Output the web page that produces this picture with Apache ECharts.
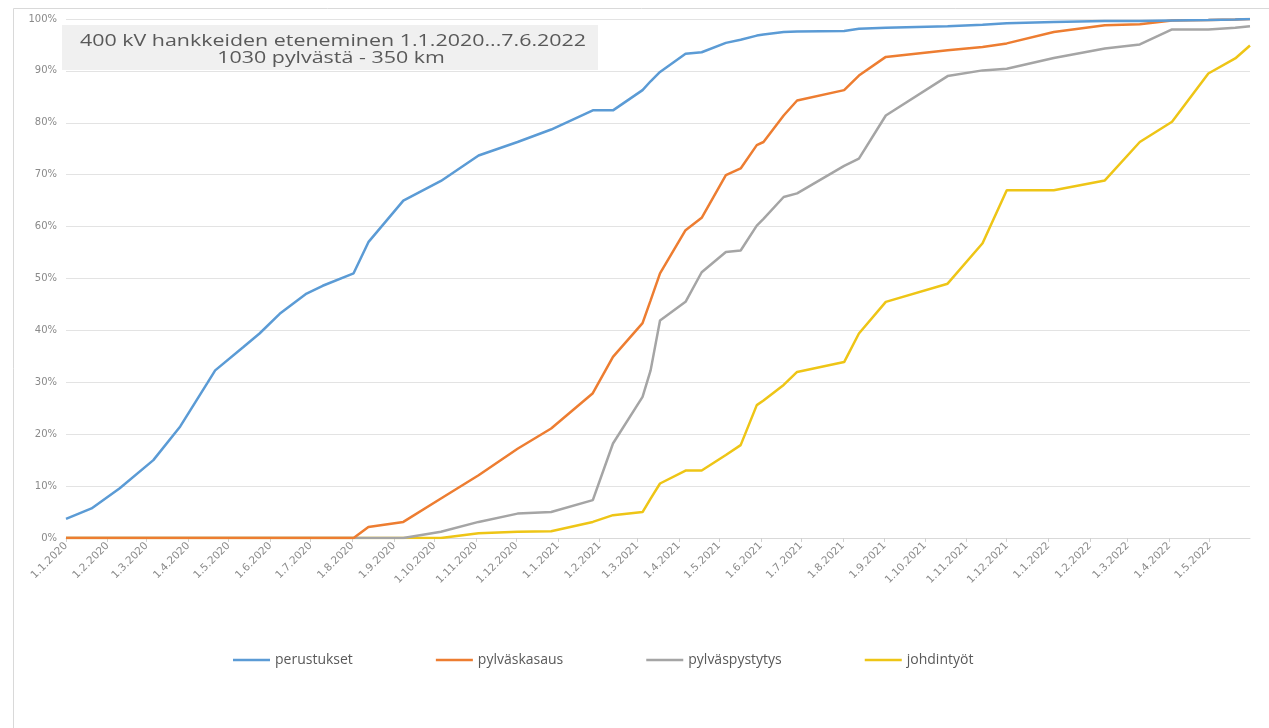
<!DOCTYPE html>
<html><head><meta charset="utf-8">
<script src="https://cdn.jsdelivr.net/npm/echarts@6/dist/echarts.min.js"></script>
<style>html,body{margin:0;padding:0;background:#fff}#c{width:1269px;height:728px}</style>
</head><body><div id="c"></div>
<script>
const titleLines = ['400 kV hankkeiden eteneminen 1.1.2020...7.6.2022', '1030 pylvästä - 350 km'];
const seriesNames = ['perustukset', 'pylväskasaus', 'pylväspystytys', 'johdintyöt'];
const axisStart = '1.1.2020';
const axisEnd = '31.5.2022';
const yTicks = [0, 10, 20, 30, 40, 50, 60, 70, 80, 90, 100];

const dates = ['1.1.2020','20.1.2020','10.2.2020','6.3.2020','26.3.2020','15.4.2020','21.4.2020','12.5.2020','24.5.2020','8.6.2020',
  '28.6.2020','10.7.2020','2.8.2020','13.8.2020','8.9.2020','6.10.2020','3.11.2020','2.12.2020','27.12.2020','27.1.2021',
  '11.2.2021','5.3.2021','11.3.2021','18.3.2021','6.4.2021','18.4.2021','6.5.2021','17.5.2021','29.5.2021','3.6.2021',
  '18.6.2021','28.6.2021','2.8.2021','13.8.2021','2.9.2021','18.10.2021','13.11.2021','1.12.2021','5.1.2022','12.2.2022',
  '10.3.2022','3.4.2022','30.4.2022','20.5.2022','31.5.2022'];
const perustukset = [3.7,5.7,9.6,15,21.5,29.8,32.3,36.8,39.4,43.2,
  47.1,48.6,51,57,65,68.8,73.7,76.3,78.7,82.4,
  82.4,86.3,88,89.8,93.3,93.6,95.4,96,96.8,97,
  97.5,97.6,97.7,98.1,98.3,98.6,98.9,99.2,99.4,99.6,
  99.6,99.7,99.8,99.9,100];
const pylvaskasaus = [0,0,0,0,0,0,0,0,0,0,
  0,0,0,2.1,3.1,7.6,12.1,17.2,21.1,27.9,
  34.9,41.4,45.8,51,59.3,61.7,69.9,71.2,75.7,76.3,
  81.4,84.3,86.3,89.1,92.7,94,94.6,95.3,97.5,98.8,
  99,99.7,99.8,99.9,100];
const pylvaspystytys = [0,0,0,0,0,0,0,0,0,0,
  0,0,0,0,0,1.2,3.1,4.7,5,7.3,
  18.2,27.2,32.3,41.9,45.5,51.2,55.1,55.4,60.2,61.5,
  65.7,66.4,71.7,73.1,81.4,89,90.1,90.4,92.5,94.3,
  95.1,98,98,98.3,98.6];
const johdintyot = [0,0,0,0,0,0,0,0,0,0,
  0,0,0,0,0,0,0.9,1.2,1.3,3.1,
  4.4,5,7.6,10.5,13,13,16,17.9,25.6,26.5,
  29.5,32,33.9,39.4,45.5,49,56.8,67,67,68.9,
  76.3,80.2,89.5,92.4,94.9];
const colors = ['#5B9BD5', '#ED7D31', '#A5A5A5', '#EEC516'];

function parse(s) { const p = s.split('.').map(Number); return Date.UTC(p[2], p[1] - 1, p[0]); }
const categories = [];
for (let t = parse(axisStart); t <= parse(axisEnd); t += 86400000) {
  const dt = new Date(t);
  categories.push(dt.getUTCDate() + '.' + (dt.getUTCMonth() + 1) + '.' + dt.getUTCFullYear());
}
const isMonthStart = (i, v) => String(v).startsWith('1.');
const values = [perustukset, pylvaskasaus, pylvaspystytys, johdintyot];

const chart = echarts.init(document.getElementById('c'));
chart.setOption({
  animation: false,
  textStyle: { fontFamily: 'Open Sans, Liberation Sans, sans-serif' },
  grid: { left: 66, right: 19, top: 19, bottom: 190, containLabel: false },
  graphic: [
    { type: 'rect', shape: { x: 13.5, y: 8.5, width: 1300, height: 760 }, style: { fill: 'none', stroke: '#d9d9d9', lineWidth: 1 }, silent: true },
    { type: 'rect', shape: { x: 62, y: 25, width: 536, height: 45 }, style: { fill: '#f0f0f0' }, z: 10 },
    { type: 'text', x: 333, y: 41, scaleX: 1.26, z: 11, style: { text: titleLines[0], fill: '#595959', font: '17px "Open Sans", sans-serif', align: 'center', verticalAlign: 'middle' } },
    { type: 'text', x: 331, y: 58, scaleX: 1.26, z: 11, style: { text: titleLines[1], fill: '#595959', font: '17px "Open Sans", sans-serif', align: 'center', verticalAlign: 'middle' } }
  ],
  legend: {
    left: 228, top: 648, itemWidth: 37, itemHeight: 2.5, itemGap: 83, icon: 'rect',
    textStyle: { color: '#595959', fontSize: 14 },
    data: seriesNames
  },
  xAxis: {
    type: 'category', data: categories, boundaryGap: false,
    axisLine: { lineStyle: { color: '#d9d9d9' } },
    axisTick: { interval: isMonthStart, length: 4, lineStyle: { color: '#d0d0d0' } },
    axisLabel: { interval: isMonthStart, rotate: 45, fontSize: 10.5, fontFamily: 'DejaVu Sans', color: '#8a8a8a', margin: 6 },
    splitLine: { show: false }
  },
  yAxis: {
    type: 'value', min: yTicks[0], max: yTicks[yTicks.length - 1], interval: 10,
    axisLine: { show: false }, axisTick: { show: false },
    axisLabel: { formatter: '{value}%', fontSize: 10, fontFamily: 'DejaVu Sans', color: '#8a8a8a', margin: 9 },
    splitLine: { lineStyle: { color: '#e3e3e3' } }
  },
  series: seriesNames.map((n, k) => ({
    name: n, type: 'line', showSymbol: false, symbol: 'none',
    lineStyle: { width: 2.5, color: colors[k] }, itemStyle: { color: colors[k] },
    data: dates.map((d, i) => [categories.indexOf(d), values[k][i]]),
    z: 5 - k
  }))
});
</script>
</body></html>
